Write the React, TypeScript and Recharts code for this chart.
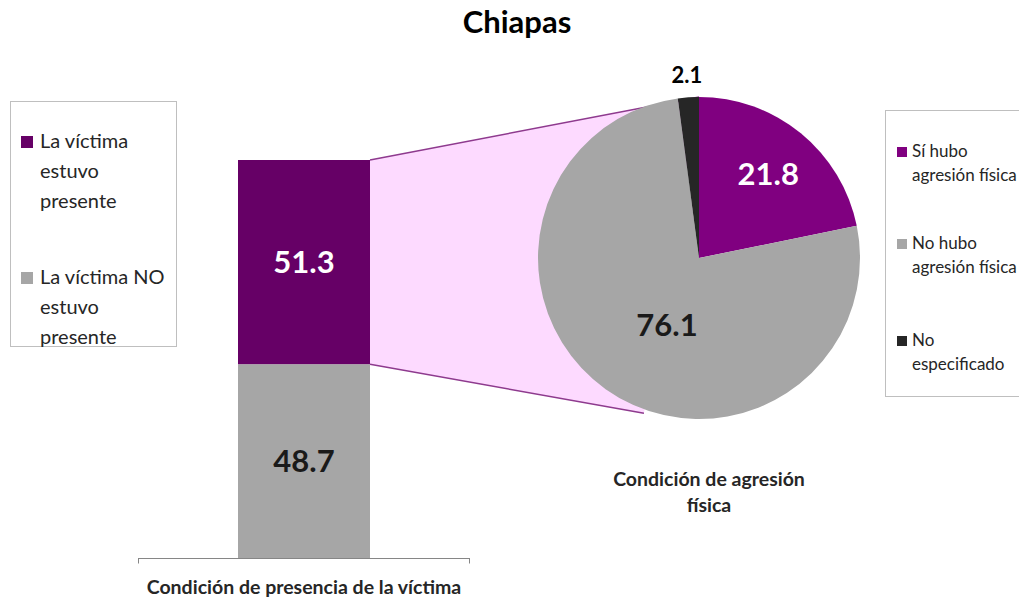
import { Bar, BarChart, Cell, LabelList, Pie, PieChart, XAxis, YAxis } from 'recharts';

const barCategories = ['Condición de presencia de la víctima'];
const presente = [51.3];
const noPresente = [48.7];
const barSeries = ['La víctima estuvo presente', 'La víctima NO estuvo presente'];

const pieNames = ['Sí hubo agresión física', 'No hubo agresión física', 'No especificado'];
const pieValues = [21.8, 76.1, 2.1];

const barData = barCategories.map((c, i) => ({ name: c, presente: presente[i], noPresente: noPresente[i] }));
const pieData = pieNames.map((n, i) => ({ name: n, value: pieValues[i] }));

const FONT = 'Lato, "Open Sans", sans-serif';
const PIE_CX = 699;
const PIE_CY = 258;
const PIE_R = 161;
const RAD = Math.PI / 180;
const BAR_COLORS = ['#660066', '#A6A6A6'];
const PIE_COLORS = ['#800080', '#A6A6A6', '#262626'];

// top segment of the bar also draws the pink connector towards the pie
function PresenteShape(props: any) {
  const { x, y, width, height, fill } = props;
  const top = { x: PIE_CX, y: PIE_CY - PIE_R };
  const low = { x: PIE_CX + PIE_R * Math.cos(250 * RAD), y: PIE_CY - PIE_R * Math.sin(250 * RAD) + 4 };
  const rx = x + width;
  return (
    <g>
      <polygon points={`${rx},${y} ${top.x},${top.y} ${low.x},${low.y} ${rx},${y + height}`} fill='#FDDAFF' stroke='none' />
      <line x1={rx} y1={y} x2={top.x} y2={top.y} stroke='#8E3A8E' strokeWidth={1.5} />
      <line x1={rx} y1={y + height} x2={low.x} y2={low.y} stroke='#8E3A8E' strokeWidth={1.5} />
      <rect x={x} y={y} width={width} height={height} fill={fill} />
    </g>
  );
}

function PieLabel(props: any) {
  const { cx, cy, midAngle, outerRadius, value, index } = props;
  const factor = [0.68, 0.45, 1.14][index];
  const r = outerRadius * factor;
  const x = cx + r * Math.cos(-midAngle * RAD) + (index === 1 ? 10 : 0);
  const y = cy + r * Math.sin(-midAngle * RAD) + (index === 1 ? 7 : 0);
  const color = ['#FFFFFF', '#1A1A1A', '#000000'][index];
  const size = index === 2 ? 22 : 31;
  return (
    <text x={x} y={y} fill={color} fontSize={size} fontWeight={700} textAnchor='middle' dominantBaseline='central' fontFamily={FONT}>
      {value}
    </text>
  );
}

function AxisEnds(props: any) {
  const { x, y, width } = props;
  return (
    <g stroke='#868686' strokeWidth={1}>
      <line x1={x} y1={y} x2={x + width} y2={y} />
      <line x1={x + 0.5} y1={y} x2={x + 0.5} y2={y + 5} />
      <line x1={x + width - 0.5} y1={y} x2={x + width - 0.5} y2={y + 5} />
    </g>
  );
}

const legendText = { fontFamily: FONT, color: '#262626' } as const;

function App() {
  return (
    <div style={{ position: 'absolute', left: 0, top: 0, width: 1019, height: 600, overflow: 'hidden', background: '#fff', fontFamily: FONT }}>
      <div style={{ position: 'absolute', left: 0, top: 2, width: 1034, textAlign: 'center', fontSize: 31, fontWeight: 700, color: '#000' }}>Chiapas</div>

      <div style={{ position: 'absolute', left: 0, top: 0 }}>
        <BarChart width={1019} height={600} data={barData} margin={{ top: 160, right: 549, bottom: 12, left: 138 }} barSize={132}>
          <XAxis dataKey='name' tick={false} tickLine={false} height={30} axisLine={false} />
          <YAxis hide domain={[0, 100]} />
          <Bar dataKey='noPresente' stackId='a' fill={BAR_COLORS[1]} isAnimationActive={false}>
            <LabelList dataKey='noPresente' position='center' fill='#1A1A1A' fontSize={31} fontWeight={700} fontFamily={FONT} />
          </Bar>
          <Bar dataKey='presente' stackId='a' fill={BAR_COLORS[0]} shape={PresenteShape} isAnimationActive={false}>
            <LabelList dataKey='presente' position='center' fill='#FFFFFF' fontSize={31} fontWeight={700} fontFamily={FONT} />
          </Bar>
        </BarChart>
      </div>

      <svg style={{ position: 'absolute', left: 0, top: 0 }} width={1019} height={600}>
        <AxisEnds x={138} y={558.5} width={332} />
      </svg>

      <div style={{ position: 'absolute', left: 0, top: 0 }}>
        <PieChart width={1019} height={600} margin={{ top: 0, right: 0, bottom: 0, left: 0 }}>
          <Pie data={pieData} dataKey='value' cx={PIE_CX} cy={PIE_CY} outerRadius={PIE_R} startAngle={90} endAngle={-270} stroke='none' label={PieLabel} labelLine={false} isAnimationActive={false}>
            {pieData.map((d, i) => (
              <Cell key={d.name} fill={PIE_COLORS[i]} />
            ))}
          </Pie>
        </PieChart>
      </div>

      <div style={{ position: 'absolute', left: 104, width: 400, top: 575, textAlign: 'center', fontSize: 19.5, fontWeight: 700, color: '#262626' }}>{barCategories[0]}</div>
      <div style={{ position: 'absolute', left: 559, width: 300, top: 466, textAlign: 'center', fontSize: 19.5, fontWeight: 700, lineHeight: '26px', color: '#262626' }}>
        Condición de agresión<br />física
      </div>

      <div style={{ position: 'absolute', left: 10, top: 101, width: 167, height: 246, border: '1px solid #BFBFBF', boxSizing: 'border-box' }}>
        {barSeries.map((s, i) => (
          <div key={s} style={{ position: 'absolute', left: 10, top: [23, 159][i], width: 160, fontSize: 20, lineHeight: '30px', whiteSpace: 'nowrap', ...legendText }}>
            <span style={{ display: 'inline-block', width: 12, height: 12, background: BAR_COLORS[i], marginRight: 7 }} />
            {s.replace(' estuvo presente', '')}
            <div style={{ paddingLeft: 19 }}>estuvo</div>
            <div style={{ paddingLeft: 19 }}>presente</div>
          </div>
        ))}
      </div>

      <div style={{ position: 'absolute', left: 885, top: 110, width: 150, height: 287, border: '1px solid #BFBFBF', boxSizing: 'border-box' }}>
        {pieNames.map((s, i) => {
          const parts = i === 2 ? ['No', 'especificado'] : [s.split(' ').slice(0, 2).join(' '), 'agresión física'];
          return (
            <div key={s} style={{ position: 'absolute', left: 11, top: [28, 120, 217][i], fontSize: 17, lineHeight: '24px', whiteSpace: 'nowrap', ...legendText }}>
              <span style={{ display: 'inline-block', width: 10, height: 10, background: PIE_COLORS[i], marginRight: 5 }} />
              {parts[0]}
              <div style={{ paddingLeft: 15 }}>{parts[1]}</div>
            </div>
          );
        })}
      </div>
    </div>
  );
}

export default App;
